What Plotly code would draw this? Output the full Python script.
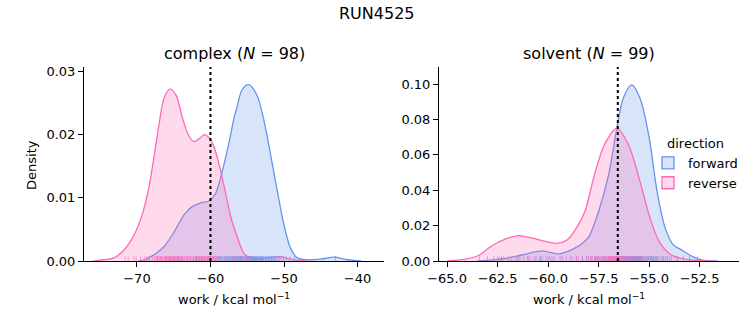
import plotly.graph_objects as go

W, H = 753, 325

# ---------------- data ----------------
suptitle = "RUN4525"
panel_titles = ["complex (<i>N</i> = 98)", "solvent (<i>N</i> = 99)"]
x_label = "work / kcal mol<sup>−1</sup>"
y_label = "Density"
directions = ["forward", "reverse"]

# KDE curves (x, density)
complex_fwd_x = [-69.8, -69.0, -68.1, -67.2, -66.3, -64.95, -63.6, -62.5, -61.3, -60.2, -59.3, -58.4,
                 -57.45, -56.8, -56.4, -55.7, -54.8, -53.7, -52.8, -51.9, -50.9, -50.0, -49.1, -48.2,
                 -46.8, -45.0, -43.0, -41.4, -39.5]
complex_fwd_y = [0.0, 0.0002, 0.0007, 0.0014, 0.0023, 0.0046, 0.0073, 0.0086, 0.0092, 0.0095, 0.0107, 0.0142,
                 0.0189, 0.0226, 0.0243, 0.0271, 0.0279, 0.0263, 0.0226, 0.0173, 0.0110, 0.0057, 0.0020, 0.0005,
                 0.0002, 0.0003, 0.0006, 0.0002, 0.0]
complex_rev_x = [-76.0, -74.5, -73.1, -71.8, -70.4, -69.3, -68.4, -67.7, -67.0, -66.3, -65.5, -64.7, -63.8,
                 -62.9, -62.2, -61.5, -60.8, -60.0, -59.3, -58.6, -57.9, -57.2, -56.6, -55.9, -55.3, -54.2,
                 -53.0, -51.5, -50.5, -49.5, -48.2, -47.0]
complex_rev_y = [0.0, 0.0002, 0.0005, 0.0017, 0.0041, 0.0073, 0.0115, 0.0163, 0.0216, 0.0258, 0.0272, 0.0263, 0.0226,
                 0.0197, 0.0189, 0.0194, 0.0200, 0.0192, 0.0173, 0.0142, 0.0105, 0.0068, 0.0046, 0.0023, 0.0010, 0.0004,
                 0.0004, 0.0006, 0.0007, 0.0004, 0.0001, 0.0]
solvent_fwd_x = [-63.5, -62.1, -61.3, -60.3, -59.5, -58.8, -58.3, -57.98, -57.5, -57.0, -56.6, -56.28, -55.86,
                 -55.45, -55.0, -54.6, -54.2, -53.8, -53.4, -52.9, -52.4, -51.6]
solvent_fwd_y = [0.0, 0.0015, 0.0034, 0.0057, 0.0040, 0.0066, 0.0100, 0.0138, 0.028, 0.049, 0.075, 0.092, 0.0996,
                 0.092, 0.070, 0.039, 0.0186, 0.0091, 0.0063, 0.0028, 0.0006, 0.0]
solvent_rev_x = [-65.0, -64.1, -63.4, -62.8, -62.1, -61.45, -60.8, -60.1, -59.6, -59.06, -58.6, -58.18, -57.7,
                 -57.2, -56.6, -56.03, -55.5, -55.0, -54.5, -53.9, -53.2, -52.4, -51.8]
solvent_rev_y = [0.0, 0.001, 0.0034, 0.0085, 0.0125, 0.0144, 0.0129, 0.0110, 0.0100, 0.0119, 0.0186, 0.028, 0.049,
                 0.066, 0.075, 0.066, 0.047, 0.026, 0.011, 0.0034, 0.001, 0.0002, 0.0]

# rug samples (estimated)
complex_fwd_rug = [-68.5, -67.2, -66.1, -65.0, -64.4, -63.8, -63.2, -62.7, -62.3, -61.9, -61.5, -61.2, -60.8, -60.4,
                   -60.0, -59.6, -59.2, -58.8, -58.4, -58.1, -57.8, -57.5, -57.3, -57.0, -56.8, -56.6, -56.4, -56.2,
                   -56.0, -55.9, -55.7, -55.6, -55.4, -55.3, -55.1, -55.0, -54.9, -54.7, -54.6, -54.5, -54.3, -54.2,
                   -54.0, -53.9, -53.7, -53.6, -53.4, -53.3, -53.1, -53.0, -52.8, -52.6, -52.4, -52.2, -52.0, -51.8,
                   -51.6, -51.3, -51.0, -50.7, -50.4, -50.1, -49.7, -49.2, -48.6, -43.0, -57.9, -57.2, -56.9, -56.5,
                   -56.1, -55.8, -55.5, -55.2, -54.8, -54.4, -54.1, -53.8, -53.5, -53.2, -52.9, -52.5, -52.1, -51.7,
                   -51.4, -51.1, -56.3, -55.0, -54.6, -53.0, -60.2, -59.0, -62.0, -58.6, -57.6, -56.7, -55.9, -54.2]
complex_rev_rug = [-71.6, -71.2, -70.4, -70.1, -69.5, -69.0, -68.7, -68.3, -67.9, -67.6, -67.4, -67.1, -66.9, -66.7,
                   -66.5, -66.3, -66.2, -66.0, -65.9, -65.8, -65.6, -65.5, -65.4, -65.3, -65.1, -65.0, -64.9, -64.7,
                   -64.6, -64.4, -64.2, -64.0, -63.8, -63.5, -63.3, -63.0, -62.8, -62.5, -62.3, -62.1, -61.9, -61.8,
                   -61.6, -61.4, -61.3, -61.1, -61.0, -60.9, -60.8, -60.7, -60.5, -60.4, -60.2, -60.1, -59.9, -59.7,
                   -59.5, -59.3, -59.0, -58.8, -58.5, -58.2, -66.6, -66.1, -65.7, -65.2, -64.8, -64.5, -64.1, -63.9,
                   -63.6, -63.1, -62.7, -62.0, -61.7, -61.2, -60.6, -60.3, -60.0, -59.8, -59.4, -58.9, -58.0, -57.7,
                   -57.4, -57.1, -56.8, -56.4, -56.0, -55.6, -55.1, -54.5, -53.9, -67.3, -66.8, -65.5, -64.3, -50.6]
solvent_fwd_rug = [-62.3, -61.5, -61.0, -60.6, -60.3, -60.0, -59.7, -59.3, -58.9, -58.6, -58.3, -58.1, -57.9, -57.7,
                   -57.5, -57.3, -57.1, -57.0, -56.9, -56.8, -56.7, -56.6, -56.5, -56.45, -56.4, -56.35, -56.3, -56.25,
                   -56.2, -56.15, -56.1, -56.05, -56.0, -55.95, -55.9, -55.85, -55.8, -55.75, -55.7, -55.65, -55.6,
                   -55.55, -55.5, -55.45, -55.4, -55.35, -55.3, -55.2, -55.1, -55.0, -54.9, -54.8, -54.7, -54.6,
                   -54.5, -54.3, -54.1, -53.9, -53.6, -53.3, -53.0, -52.6, -56.75, -56.55, -56.38, -56.28, -56.18,
                   -56.08, -55.98, -55.88, -55.78, -55.68, -55.58, -55.48, -55.38, -55.25, -55.15, -55.05, -54.95,
                   -54.85, -54.75, -54.65, -56.62, -56.48, -56.22, -56.02, -55.92, -55.82, -55.72, -55.62, -55.52,
                   -55.42, -57.2, -57.6, -58.0, -60.4, -59.9, -54.4, -54.2]
solvent_rev_rug = [-63.4, -63.0, -62.7, -62.4, -62.2, -62.0, -61.8, -61.6, -61.4, -61.2, -61.0, -60.7, -60.4, -60.1,
                   -59.8, -59.4, -59.1, -58.8, -58.5, -58.3, -58.1, -57.9, -57.8, -57.7, -57.6, -57.5, -57.4, -57.3,
                   -57.2, -57.1, -57.0, -56.95, -56.9, -56.85, -56.8, -56.75, -56.7, -56.65, -56.6, -56.55, -56.5,
                   -56.45, -56.4, -56.35, -56.3, -56.2, -56.1, -56.0, -55.9, -55.8, -55.7, -55.6, -55.5, -55.4,
                   -55.3, -55.2, -55.0, -54.8, -54.6, -54.3, -54.0, -53.6, -57.85, -57.65, -57.45, -57.25, -57.05,
                   -56.98, -56.88, -56.78, -56.68, -56.58, -56.48, -56.38, -56.28, -56.15, -56.05, -55.95, -55.85,
                   -55.65, -55.45, -55.1, -54.9, -57.55, -57.15, -56.72, -56.62, -56.42, -56.25, -56.82, -57.35,
                   -58.0, -58.6, -61.5, -61.9, -62.5, -60.9, -56.92, -56.52]

# estimate markers (dotted vertical lines)
complex_estimate = -60.0
solvent_estimate = -56.55

complex_xticks = [-70, -60, -50, -40]
complex_yticks = [0.00, 0.01, 0.02, 0.03]
solvent_xticks = [-65.0, -62.5, -60.0, -57.5, -55.0, -52.5]
solvent_yticks = [0.00, 0.02, 0.04, 0.06, 0.08, 0.10]

# ---------------- style ----------------
FONT = "DejaVu Sans"
line_col = {"forward": "rgb(100,149,237)", "reverse": "rgb(255,105,180)"}
fill_col = {"forward": "rgba(100,149,237,0.25)", "reverse": "rgba(255,105,180,0.25)"}
rug_col = {"forward": "rgba(100,149,237,0.6)", "reverse": "rgba(255,105,180,0.6)"}


def px_x(p):
    return p / W


def px_y(p):
    return 1 - p / H


def minus(s):
    return s.replace("-", "\u2212")


fig = go.Figure()

panels = [
    dict(xa="x", ya="y",
         curves={"forward": (complex_fwd_x, complex_fwd_y), "reverse": (complex_rev_x, complex_rev_y)},
         rugs={"forward": complex_fwd_rug, "reverse": complex_rev_rug},
         est=complex_estimate),
    dict(xa="x2", ya="y2",
         curves={"forward": (solvent_fwd_x, solvent_fwd_y), "reverse": (solvent_rev_x, solvent_rev_y)},
         rugs={"forward": solvent_fwd_rug, "reverse": solvent_rev_rug},
         est=solvent_estimate),
]

shapes = []
for i, p in enumerate(panels):
    for d in directions:
        xs, ys = p["curves"][d]
        fig.add_trace(go.Scatter(
            x=xs, y=ys, mode="lines", xaxis=p["xa"], yaxis=p["ya"],
            line=dict(color=line_col[d], width=1.3, shape="spline", smoothing=0.9),
            fill="tozeroy", fillcolor=fill_col[d],
            name=d, showlegend=False, hoverinfo="skip"))
    for d in directions:
        for v in p["rugs"][d]:
            shapes.append(dict(type="line", xref=p["xa"], yref=p["ya"] + " domain",
                               x0=v, x1=v, y0=0, y1=0.025,
                               line=dict(color=rug_col[d], width=1)))
    shapes.append(dict(type="line", xref=p["xa"], yref=p["ya"] + " domain",
                       x0=p["est"], x1=p["est"], y0=0, y1=1,
                       line=dict(color="black", width=2, dash="dot")))

# legend entries (patch-style boxes)
for d in directions:
    fig.add_trace(go.Bar(
        x=[None], y=[None], xaxis="x2", yaxis="y2",
        marker=dict(color=fill_col[d], line=dict(color=line_col[d], width=1.3)),
        name=d, showlegend=True, hoverinfo="skip"))

axis_common = dict(showline=True, linecolor="black", linewidth=1, ticks="outside", ticklen=5,
                   tickcolor="black", tickwidth=1, showgrid=False, zeroline=False, automargin=False,
                   tickfont=dict(family=FONT, size=13, color="black"))

y_dom = [px_y(261), px_y(67)]
fig.update_layout(
    template="none",
    width=W, height=H, margin=dict(l=0, r=0, t=0, b=0, pad=0),
    paper_bgcolor="white", plot_bgcolor="white",
    font=dict(family=FONT, size=13, color="black"),
    shapes=shapes,
    xaxis=dict(domain=[px_x(84), px_x(384)], range=[-77.2, -36.4], tickvals=complex_xticks,
               ticktext=[minus(str(t)) for t in complex_xticks], anchor="y", **axis_common),
    yaxis=dict(domain=y_dom, range=[0, 0.0307], tickvals=complex_yticks,
               ticktext=[f"{t:.2f}" for t in complex_yticks], anchor="x", **axis_common),
    xaxis2=dict(domain=[px_x(439), px_x(739)], range=[-65.4, -50.55], tickvals=solvent_xticks,
                ticktext=[minus(f"{t:.1f}") for t in solvent_xticks], anchor="y2", **axis_common),
    yaxis2=dict(domain=y_dom, range=[0, 0.1097], tickvals=solvent_yticks,
                ticktext=[f"{t:.2f}" for t in solvent_yticks], anchor="x2", **axis_common),
    legend=dict(x=px_x(648), y=px_y(131), xanchor="left", yanchor="top",
                bgcolor="rgba(0,0,0,0)", borderwidth=0, font=dict(family=FONT, size=13),
                title=dict(text="direction", side="top center", font=dict(family=FONT, size=13)),
                itemwidth=30, tracegroupgap=0, traceorder="normal"),
    annotations=[
        dict(text=suptitle, x=0.5, y=px_y(13), xref="paper", yref="paper", showarrow=False,
             xanchor="center", yanchor="middle", font=dict(family=FONT, size=16)),
        dict(text=panel_titles[0], x=px_x(234), y=px_y(54), xref="paper", yref="paper", showarrow=False,
             xanchor="center", yanchor="middle", font=dict(family=FONT, size=16)),
        dict(text=panel_titles[1], x=px_x(589), y=px_y(54), xref="paper", yref="paper", showarrow=False,
             xanchor="center", yanchor="middle", font=dict(family=FONT, size=16)),
        dict(text=x_label, x=px_x(234), y=px_y(299), xref="paper", yref="paper", showarrow=False,
             xanchor="center", yanchor="middle", font=dict(family=FONT, size=13)),
        dict(text=x_label, x=px_x(589), y=px_y(299), xref="paper", yref="paper", showarrow=False,
             xanchor="center", yanchor="middle", font=dict(family=FONT, size=13)),
        dict(text=y_label, x=px_x(31), y=px_y(165), xref="paper", yref="paper", showarrow=False,
             xanchor="center", yanchor="middle", textangle=-90, font=dict(family=FONT, size=13)),
    ],
)

fig.write_html("out.html")
